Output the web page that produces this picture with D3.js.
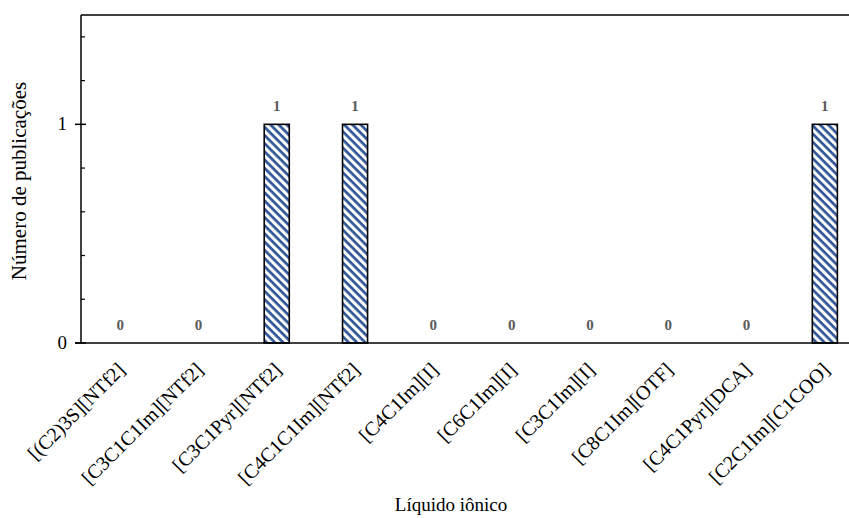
<!DOCTYPE html>
<html>
<head>
<meta charset="utf-8">
<script src="https://cdn.jsdelivr.net/npm/d3@7"></script>
<style>
	body { margin:0; background:#fff; }
	svg { display:block; }
	svg text { font-family:"Liberation Serif", "Times New Roman", serif; }
</style>
</head>
<body>
<div id="chart"></div>
<script>
var categories = ["[(C2)3S][NTf2]","[C3C1C1Im][NTf2]","[C3C1Pyr][NTf2]","[C4C1C1Im][NTf2]","[C4C1Im][I]","[C6C1Im][I]","[C3C1Im][I]","[C8C1Im][OTF]","[C4C1Pyr][DCA]","[C2C1Im][C1COO]"];
var publications = [0,0,1,1,0,0,0,0,0,1];
var majorTicks = [0,1];
var minorTicks = [0.2,0.4,0.6,0.8,1.2,1.4];

var W = 849, H = 518;
var plotL = 81, plotT = 15, plotB = 343, plotR = 864;

var svg = d3.select("#chart").append("svg")
	.attr("width",W)
	.attr("height",H);

//diagonal hatch, top-left to bottom-right
var defs = svg.append("defs");
var pat = defs.append("pattern")
	.attr("id","hatch")
	.attr("patternUnits","userSpaceOnUse")
	.attr("width",5.8)
	.attr("height",5.8)
	.attr("patternTransform","rotate(45)");
pat.append("rect").attr("width",5.8).attr("height",5.8).attr("fill","#fff");
pat.append("rect").attr("x",0).attr("y",0).attr("width",5.8).attr("height",2.7).attr("fill","#2F5597");

//scales
var x = d3.scaleBand()
	.domain(categories)
	.range([plotL,plotR])
	.paddingInner(0.68)
	.paddingOuter(0.34);

var y = d3.scaleLinear()
	.domain([0,1.5])
	.range([plotB,plotT]);

//bars
svg.selectAll(".bar")
	.data(categories)
	.enter().append("rect")
	.attr("class","bar")
	.attr("x",function(d){return x(d);})
	.attr("width",x.bandwidth())
	.attr("y",function(d,i){return y(publications[i]);})
	.attr("height",function(d,i){return y(0) - y(publications[i]);})
	.attr("fill","url(#hatch)")
	.attr("stroke","#000")
	.attr("stroke-width",1.6)
	.style("display",function(d,i){return publications[i] > 0 ? null : "none";});

//value labels
svg.selectAll(".val")
	.data(categories)
	.enter().append("text")
	.attr("class","val")
	.attr("x",function(d){return x(d) + x.bandwidth()/2;})
	.attr("y",function(d,i){return y(publications[i]) - 13;})
	.attr("text-anchor","middle")
	.attr("font-size",15)
	.attr("font-weight","bold")
	.attr("fill","#595959")
	.text(function(d,i){return publications[i];});

//frame: top line, left axis, bottom axis
svg.append("line")
	.attr("x1",plotL).attr("x2",W)
	.attr("y1",plotT).attr("y2",plotT)
	.attr("stroke","#000").attr("stroke-width",1.5);

svg.append("line")
	.attr("x1",plotL).attr("x2",plotL)
	.attr("y1",plotT).attr("y2",plotB)
	.attr("stroke","#000").attr("stroke-width",1.5);

svg.append("line")
	.attr("x1",plotL - 6).attr("x2",W)
	.attr("y1",plotB).attr("y2",plotB)
	.attr("stroke","#000").attr("stroke-width",1.5);

//major ticks cross the axis
svg.selectAll(".major")
	.data(majorTicks)
	.enter().append("line")
	.attr("x1",plotL - 6).attr("x2",plotL + 5)
	.attr("y1",function(d){return y(d);}).attr("y2",function(d){return y(d);})
	.attr("stroke","#000").attr("stroke-width",1.5);

svg.selectAll(".minor")
	.data(minorTicks)
	.enter().append("line")
	.attr("x1",plotL).attr("x2",plotL + 4)
	.attr("y1",function(d){return y(d);}).attr("y2",function(d){return y(d);})
	.attr("stroke","#000").attr("stroke-width",1.2);

svg.selectAll(".ylab")
	.data(majorTicks)
	.enter().append("text")
	.attr("x",plotL - 14)
	.attr("y",function(d){return y(d) + 6;})
	.attr("text-anchor","end")
	.attr("font-size",19)
	.attr("fill","#000")
	.text(function(d){return d;});

//category labels
svg.selectAll(".xlab")
	.data(categories)
	.enter().append("text")
	.attr("class","xlab")
	.attr("text-anchor","end")
	.attr("font-size",20)
	.attr("fill","#000")
	.attr("transform",function(d){
		var cx = x(d) + x.bandwidth()/2 + 6;
		return "translate(" + cx + "," + (plotB + 28) + ") rotate(-45)";
	})
	.text(function(d){return d;});

//axis titles
svg.append("text")
	.attr("x",451)
	.attr("y",511)
	.attr("text-anchor","middle")
	.attr("font-size",19)
	.text("Líquido iônico");

svg.append("text")
	.attr("transform","translate(26," + ((plotT + plotB)/2 + 2) + ") rotate(-90)")
	.attr("text-anchor","middle")
	.attr("font-size",21)
	.text("Número de publicações");
</script>
</body>
</html>
